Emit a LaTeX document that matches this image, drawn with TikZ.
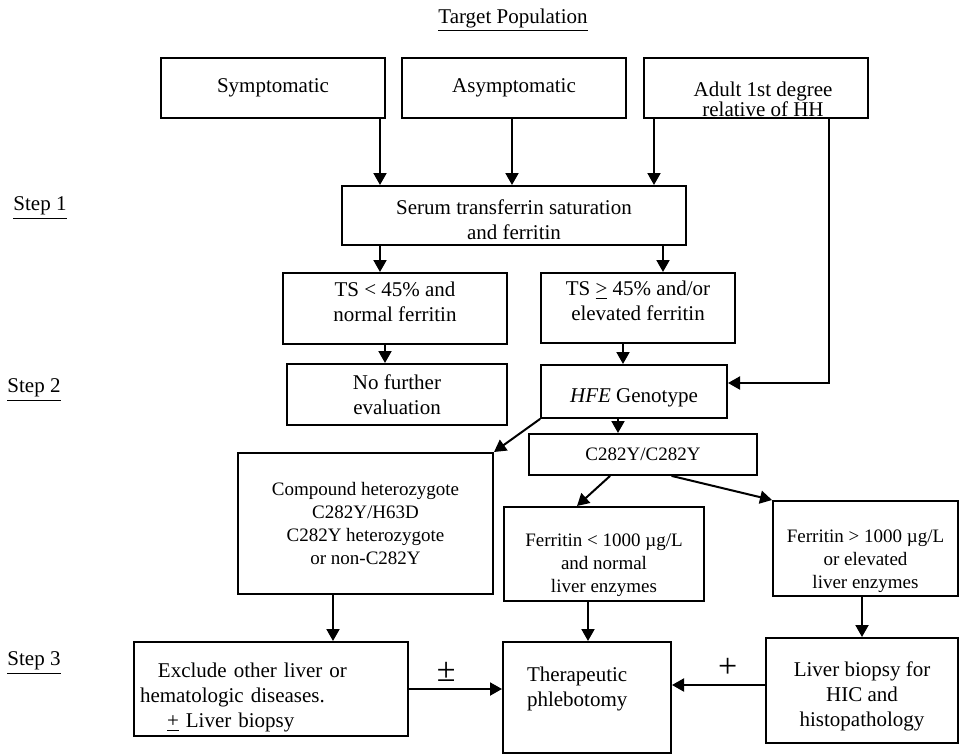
\documentclass[tikz,border=0pt]{standalone}
\usepackage{fontspec}
\setmainfont{Liberation Serif}
\usetikzlibrary{arrows.meta}
\newcommand{\bigtxt}{\fontsize{10.5}{12.5}\selectfont}
\newcommand{\smalltxt}{\fontsize{9.5}{11.5}\selectfont}
\newcommand{\signtxt}{\fontsize{17}{17}\selectfont}
% strut that pushes a box text down (first line) or up (last line)
\newcommand{\downby}[1]{\rule{0pt}{\dimexpr 9pt+#1\relax}}
\newcommand{\upby}[1]{\rule[-\dimexpr 3pt+#1\relax]{0pt}{0pt}}

\begin{document}
\begin{tikzpicture}[line cap=round,line join=miter,>={Triangle[length=6pt,width=6.5pt]},x=0.5pt,y=-0.5pt,
		box/.style={draw,line width=1pt,align=center,inner sep=1pt,font=\bigtxt},
		sbox/.style={box,font=\smalltxt},
		arr/.style={->,line width=1pt},
		steplbl/.style={font=\bigtxt}]
		\useasboundingbox (0,0) rectangle (960,756);
		% headings
		\node[steplbl] (title) at (513,20) {\underline{Target Population}};
		\node[steplbl] (step1) at (40,208) {\underline{Step 1}};
		\node[steplbl] (step2) at (34,390) {\underline{Step 2}};
		\node[steplbl] (step3) at (34,663) {\underline{Step 3}};
		% boxes
		\node[box,minimum width=112pt,minimum height=30pt] (sym) at (273,88) {Symptomatic};
		\node[box,minimum width=112pt,minimum height=30pt] (asym) at (514,88) {Asymptomatic};
		\node[box,minimum width=112pt,minimum height=30pt] (adult) at (756,88) {};
		\node[font=\bigtxt,align=center] (adulttxt) at (763,99) {Adult 1st degree\\[-2.5pt]relative of HH};
		\node[box,minimum width=172pt,minimum height=29.5pt] (ser) at (514,215.5) {\downby{3pt}Serum transferrin saturation\\and ferritin};
		\node[box,minimum width=112pt,minimum height=35.5pt] (tslo) at (395,308.5) {TS < 45\% and\\normal ferritin\upby{4pt}};
		\node[box,minimum width=97pt,minimum height=35pt] (tshi) at (638,308) {TS \underline{>} 45\% and/or\\elevated ferritin\upby{4pt}};
		\node[box,minimum width=110pt,minimum height=30.5pt] (nofur) at (397,394.5) {No further\\evaluation};
		\node[box,minimum width=93pt,minimum height=26.5pt] (hfe) at (634,391.5) {\downby{4pt}\textit{HFE} Genotype};
		\node[sbox,minimum width=114pt,minimum height=20.5pt] (homo) at (643,454.5) {C282Y/C282Y};
		\node[sbox,minimum width=127.5pt,minimum height=70.5pt] (compound) at (365.5,523.5) {Compound heterozygote\\C282Y/H63D\\C282Y heterozygote\\or non-C282Y};
		\node[sbox,minimum width=100pt,minimum height=47pt] (ferlo) at (604,554) {\downby{9pt}Ferritin < 1000 µg/L\\and normal\\liver enzymes};
		\node[sbox,minimum width=92.5pt,minimum height=47.5pt] (ferhi) at (865.5,548.5) {\downby{10pt}Ferritin > 1000 µg/L\\or elevated\\liver enzymes};
		\node[box,minimum width=137pt,minimum height=47pt,text width=131pt,align=left] (excl) at (271,689) {\downby{7pt}\hspace{9pt}Exclude other liver or\\hematologic diseases.\\\hspace{13.5pt}\underline{+} Liver biopsy};
		\node[box,minimum width=84pt,minimum height=55.5pt,text width=60pt,align=left] (ther) at (587,697.5) {Therapeutic\\phlebotomy\upby{8pt}};
		\node[box,minimum width=96pt,minimum height=52.5pt] (liver) at (862,690.5) {\downby{4pt}Liver biopsy for\\HIC and\\histopathology};
		% connectors
		\draw[arr] (380,0 |- sym.south) -- (380,0 |- ser.north);
		\draw[arr] (512,0 |- asym.south) -- (512,0 |- ser.north);
		\draw[arr] (654,0 |- adult.south) -- (654,0 |- ser.north);
		\draw[arr] (829,0 |- adult.south) |- ([yshift=4.25pt]hfe.east);
		\draw[arr] (380,0 |- ser.south) -- (380,0 |- tslo.north);
		\draw[arr] (663,0 |- ser.south) -- (663,0 |- tshi.north);
		\draw[arr] (385,0 |- tslo.south) -- (385,0 |- nofur.north);
		\draw[arr] (623,0 |- tshi.south) -- (623,0 |- hfe.north);
		\draw[arr] (618,0 |- hfe.south) -- (618,0 |- homo.north);
		\draw[arr] (hfe.south west) -- (compound.north east);
		\draw[arr] (610,0 |- homo.south) -- (577,0 |- ferlo.north);
		\draw[arr] (672,0 |- homo.south) -- (ferhi.north west);
		\draw[arr] (333,0 |- compound.south) -- (333,0 |- excl.north);
		\draw[arr] (588,0 |- ferlo.south) -- (588,0 |- ther.north);
		\draw[arr] (862,0 |- ferhi.south) -- (liver.north);
		\draw[arr] (excl.east) -- (excl.east -| ther.west) node[pos=0.4,above,font=\signtxt] {±};
		\draw[arr] (liver.west |- 0,685) -- (ther.east |- 0,685) node[pos=0.4,above,font=\signtxt] {+};
\end{tikzpicture}
\end{document}
